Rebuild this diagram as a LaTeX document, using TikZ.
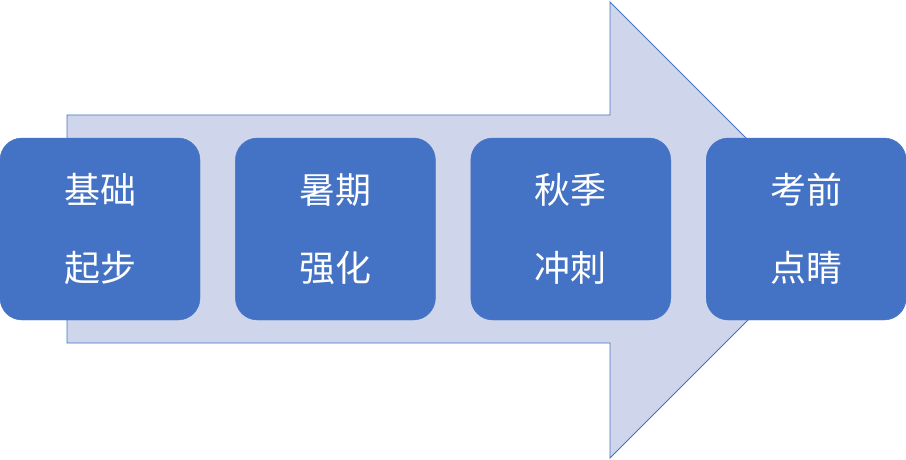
\documentclass[tikz,border=0pt]{standalone}
\usepackage{fontspec}
\newfontfamily\cjk{Noto Sans CJK SC}
\usetikzlibrary{positioning}
\definecolor{arrowfill}{HTML}{CFD5EA}
\definecolor{boxblue}{HTML}{4472C4}
\tikzset{
  stage/.style={draw=boxblue, fill=boxblue, rounded corners=22pt,
    minimum width=200pt, minimum height=182pt, text=white,
    font=\cjk\fontsize{36}{78}\selectfont, align=center, inner sep=0pt}
}
\begin{document}
\begin{tikzpicture}[x=1pt,y=-1pt]
  \useasboundingbox (0,0) rectangle (906,460);

  % Big arrow behind the stages
  \draw[boxblue, fill=arrowfill, line width=0.8pt]
    (67,115) -- (610,115) -- (610,2) -- (838,230) -- (610,458)
    -- (610,343) -- (67,343) -- cycle;

  % Stages
  \node[stage] (s1) at (100,229) {基础\\起步};
  \node[stage, right=35pt of s1] (s2) {暑期\\强化};
  \node[stage, right=35pt of s2] (s3) {秋季\\冲刺};
  \node[stage, right=35pt of s3] (s4) {考前\\点睛};

\end{tikzpicture}
\end{document}
